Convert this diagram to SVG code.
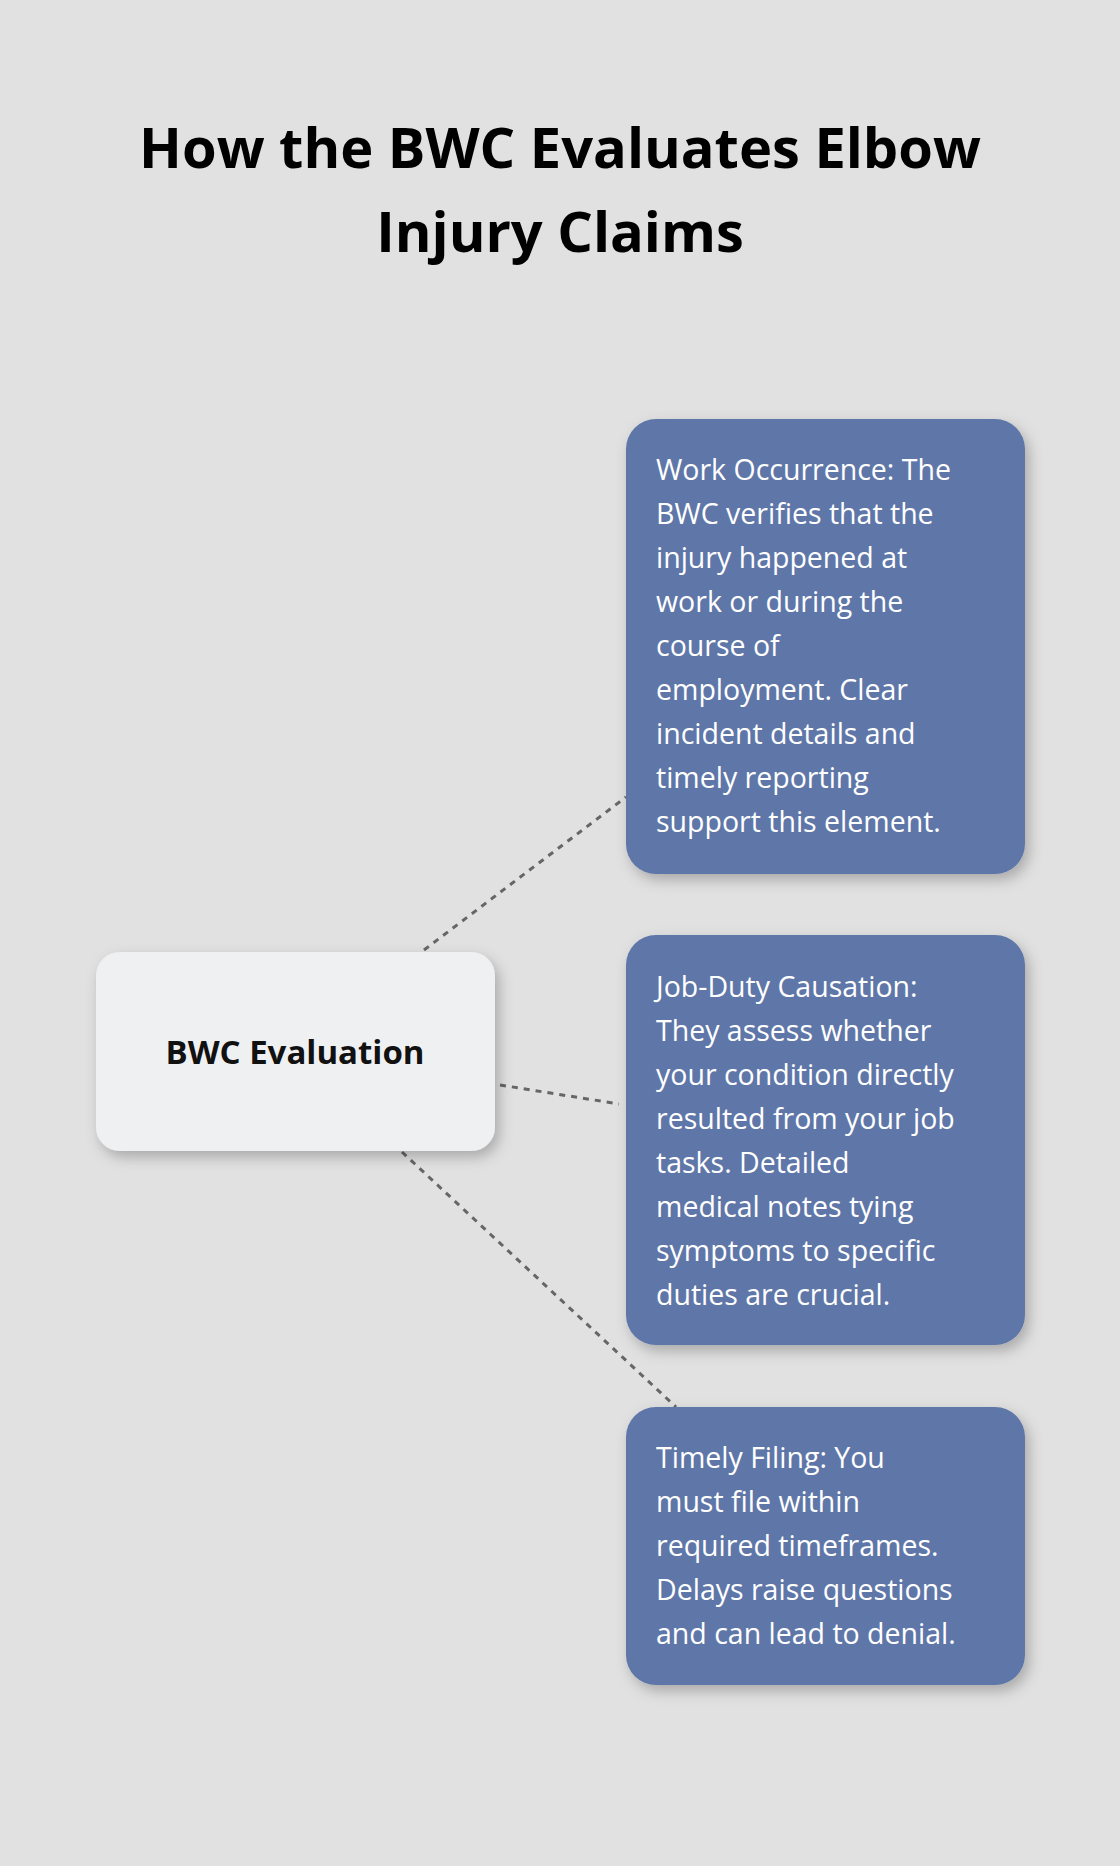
<svg xmlns="http://www.w3.org/2000/svg" width="1120" height="1866" viewBox="0 0 1120 1866">
<defs>
<filter id="sh" x="-20%" y="-20%" width="140%" height="140%"><feDropShadow dx="4" dy="6" stdDeviation="7" flood-color="#000" flood-opacity="0.25"/></filter>
<style>
.t{font-family:"Open Sans","Noto Sans",sans-serif;font-weight:700;font-size:56px;fill:#000;text-anchor:middle}
.b{fill:#5e77a8;filter:url(#sh)}
.w{font-family:"Open Sans","Noto Sans",sans-serif;font-size:28.5px;fill:#fff}
.c{stroke:#666;stroke-width:3;stroke-dasharray:6 6;fill:none}
</style>
</defs>
<rect width="1120" height="1866" fill="#e0e1e0"/>
<text class="t" x="560" y="168">How the BWC Evaluates Elbow</text>
<text class="t" x="560" y="252">Injury Claims</text>
<g id="connectors">
<line class="c" x1="424" y1="950" x2="626" y2="797"/>
<line class="c" x1="500" y1="1085" x2="619" y2="1104"/>
<line class="c" x1="402" y1="1152" x2="676" y2="1407"/>
</g>
<g id="center">
<rect x="96" y="952" width="399" height="199" rx="24" fill="#eff0f2" filter="url(#sh)"/>
<text x="295" y="1064" font-family="Open Sans,Noto Sans,sans-serif" font-weight="700" font-size="33" text-anchor="middle" fill="#111">BWC Evaluation</text>
</g>
<g id="work">
<rect class="b" x="626" y="419" width="399" height="455" rx="30"/>
<text class="w"><tspan x="656" y="480">Work Occurrence: The</tspan><tspan x="656" y="524">BWC verifies that the</tspan><tspan x="656" y="568">injury happened at</tspan><tspan x="656" y="612">work or during the</tspan><tspan x="656" y="656">course of</tspan><tspan x="656" y="700">employment. Clear</tspan><tspan x="656" y="744">incident details and</tspan><tspan x="656" y="788">timely reporting</tspan><tspan x="656" y="832">support this element.</tspan></text>
</g>
<g id="job">
<rect class="b" x="626" y="935" width="399" height="410" rx="30"/>
<text class="w"><tspan x="656" y="997">Job-Duty Causation:</tspan><tspan x="656" y="1041">They assess whether</tspan><tspan x="656" y="1085">your condition directly</tspan><tspan x="656" y="1129">resulted from your job</tspan><tspan x="656" y="1173">tasks. Detailed</tspan><tspan x="656" y="1217">medical notes tying</tspan><tspan x="656" y="1261">symptoms to specific</tspan><tspan x="656" y="1305">duties are crucial.</tspan></text>
</g>
<g id="timely">
<rect class="b" x="626" y="1407" width="399" height="278" rx="30"/>
<text class="w"><tspan x="656" y="1468">Timely Filing: You</tspan><tspan x="656" y="1512">must file within</tspan><tspan x="656" y="1556">required timeframes.</tspan><tspan x="656" y="1600">Delays raise questions</tspan><tspan x="656" y="1644">and can lead to denial.</tspan></text>
</g>
</svg>
